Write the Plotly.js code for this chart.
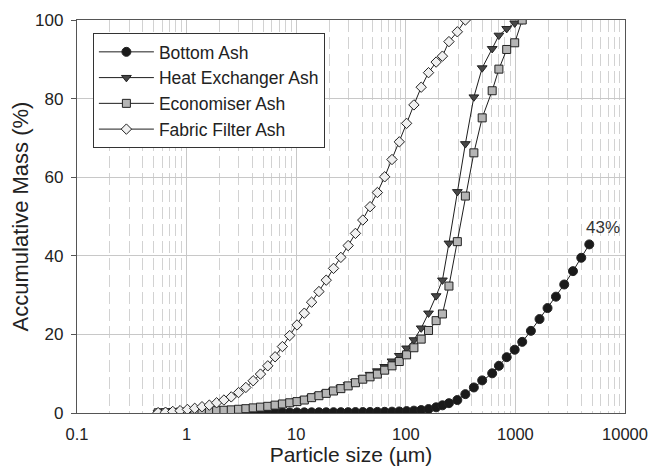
<!DOCTYPE html>
<html>
<head>
<meta charset="utf-8">
<script src="https://cdn.plot.ly/plotly-3.0.1.min.js"></script>
<style>
html,body{margin:0;padding:0;background:#fff;}
#chart{width:653px;height:468px;}
</style>
</head>
<body>
<div id="chart"></div>
<script>
// Particle size bins (µm)
var sizes = [0.550, 0.642, 0.748, 0.872, 1.017, 1.186, 1.382, 1.612, 1.879, 2.191,
  2.555, 2.979, 3.472, 4.049, 4.721, 5.504, 6.417, 7.482, 8.723, 10.17,
  11.86, 13.82, 16.12, 18.79, 21.91, 25.55, 29.79, 34.72, 40.49, 47.21,
  55.04, 64.17, 74.82, 87.23, 101.7, 118.6, 138.2, 161.2, 189.1, 215.9,
  247.5, 295.3, 349.5, 417.8, 497.6, 613.9, 707.0, 832.8, 985.4, 1154,
  1385, 1660, 1964, 2344, 2790, 3351, 3990, 4721];

var seriesNames = ["Bottom Ash", "Heat Exchanger Ash", "Economiser Ash", "Fabric Filter Ash"];

var bottomAsh = [0, 0, 0, 0, 0, 0.01, 0.02, 0.03, 0.04, 0.05,
  0.06, 0.07, 0.08, 0.09, 0.1, 0.11, 0.12, 0.13, 0.14, 0.15,
  0.16, 0.17, 0.18, 0.19, 0.2, 0.21, 0.22, 0.23, 0.24, 0.26,
  0.28, 0.3, 0.34, 0.4, 0.48, 0.6, 0.75, 1.0, 1.45, 1.96,
  2.5, 3.3, 4.8, 6.5, 8.3, 10.1, 12.0, 14.2, 16.1, 18.1,
  20.9, 23.9, 26.7, 29.6, 32.7, 36.1, 39.5, 42.9];

var heatExchangerAsh = [0.05, 0.1, 0.15, 0.2, 0.3, 0.35, 0.45, 0.55, 0.65, 0.75,
  0.9, 1.0, 1.2, 1.4, 1.6, 1.8, 2.1, 2.4, 2.7, 3.1,
  3.5, 4.0, 4.6, 5.2, 5.8, 6.5, 7.2, 8.0, 8.9, 9.8,
  10.7, 11.8, 13.2, 14.6, 16.5, 18.6, 21.6, 25.4, 29.8, 33.8,
  43.2, 56.3, 68.5, 80.4, 87.8, 92.7, 96.1, 97.8, 99.2, 100];

var economiserAsh = [0.05, 0.1, 0.15, 0.2, 0.25, 0.3, 0.4, 0.5, 0.6, 0.7,
  0.8, 0.95, 1.1, 1.3, 1.5, 1.7, 2.0, 2.3, 2.6, 2.9,
  3.3, 3.9, 4.4, 5.0, 5.6, 6.2, 6.9, 7.7, 8.6, 9.2,
  9.9, 10.9, 12.0, 13.1, 14.8, 16.6, 18.8, 21.0, 23.5, 25.2,
  32.3, 43.6, 55.2, 66.2, 75.1, 82.0, 87.5, 92.5, 94.2, 100];

var fabricFilterAsh = [0.1, 0.2, 0.4, 0.6, 0.9, 1.2, 1.6, 2.0, 2.6, 3.3,
  4.1, 5.2, 6.5, 8.2, 9.9, 12.0, 14.3, 16.9, 19.7, 22.4,
  25.4, 28.2, 30.9, 33.8, 36.8, 39.6, 42.6, 45.7, 49.1, 52.5,
  56.1, 60.1, 64.5, 69.0, 73.7, 78.4, 82.9, 86.6, 89.3, 90.8,
  94.5, 97.0, 100];

var xTickVals = [0.1, 1, 10, 100, 1000, 10000];
var xTickText = ["0.1", "1", "10", "100", "1000", "10000"];
var yTickVals = [0, 20, 40, 60, 80, 100];

var lineCol = "#1e1e1e";
function mk(name, y, symbol, fill, size) {
  return {
    type: "scatter", mode: "lines+markers", name: name,
    x: sizes.slice(0, y.length), y: y,
    line: {color: lineCol, width: 1},
    marker: {symbol: symbol, size: size, color: fill, line: {color: "#222", width: 1}}
  };
}

var data = [
  mk(seriesNames[0], bottomAsh, "circle", "#1a1a1a", 9),
  mk(seriesNames[1], heatExchangerAsh, "triangle-down", "#474747", 8.5),
  mk(seriesNames[2], economiserAsh, "square", "#b5b5b5", 8),
  mk(seriesNames[3], fabricFilterAsh, "diamond", "#f0f0f0", 8)
];

var font = "Liberation Sans, Arial, sans-serif";
var layout = {
  width: 653, height: 468,
  margin: {l: 77, r: 28, t: 20, b: 55},
  paper_bgcolor: "#fff", plot_bgcolor: "#fff",
  font: {family: font, color: "#222", size: 16},
  showlegend: true,
  legend: {
    x: 0.029, y: 0.967, xanchor: "left", yanchor: "top",
    bgcolor: "#fff", bordercolor: "#333", borderwidth: 1,
    font: {family: font, size: 17.5, color: "#222"},
    itemwidth: 55, tracegroupgap: 0
  },
  xaxis: {
    type: "log", range: [-1, 4],
    tickmode: "array", tickvals: xTickVals, ticktext: xTickText,
    ticks: "", ticklabelstandoff: 6,
    showline: true, linecolor: "#555", linewidth: 1.2, mirror: true,
    showgrid: true, gridcolor: "#c8c8c8", gridwidth: 1,
    minor: {dtick: "D1", showgrid: true, gridcolor: "#d2d2d2", gridwidth: 1, griddash: "12px,5px", ticks: ""},
    zeroline: false,
    tickfont: {family: font, size: 16.5, color: "#222"},
    title: {text: "Particle size (\u00b5m)", font: {family: font, size: 21, color: "#222"}, standoff: 4}
  },
  yaxis: {
    range: [0, 100], tickmode: "array", tickvals: yTickVals,
    ticks: "outside", ticklen: 5, tickcolor: "#555", tickwidth: 1,
    ticklabelstandoff: 4,
    showline: true, linecolor: "#555", linewidth: 1.2, mirror: true,
    showgrid: true, gridcolor: "#c8c8c8", gridwidth: 1,
    zeroline: false,
    tickfont: {family: font, size: 17, color: "#222"},
    title: {text: "Accumulative Mass (%)", font: {family: font, size: 22, color: "#222"}, standoff: 0}
  },
  annotations: [{
    x: 3.80, y: 47.2, xref: "x", yref: "y", text: "43%", showarrow: false,
    font: {family: font, size: 17, color: "#333"}
  }]
};

Plotly.newPlot("chart", data, layout, {displayModeBar: false, staticPlot: true});
</script>
</body>
</html>
